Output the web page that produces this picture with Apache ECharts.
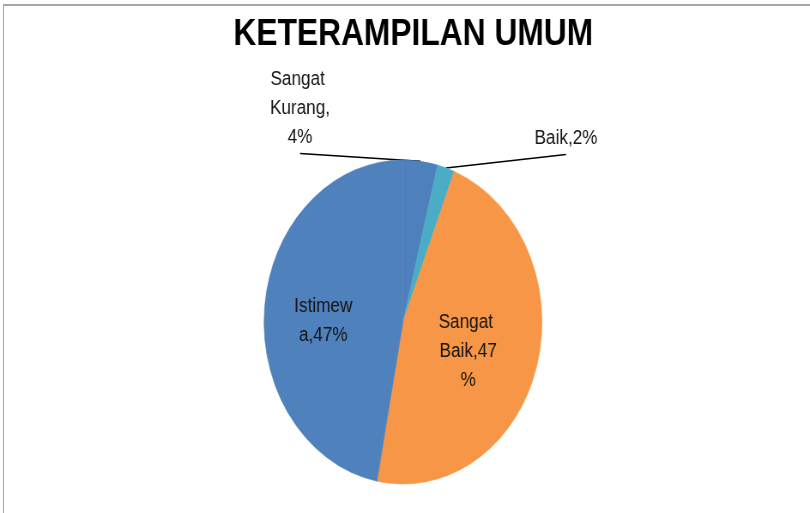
<!DOCTYPE html>
<html><head><meta charset="utf-8">
<script src="https://cdn.jsdelivr.net/npm/echarts/dist/echarts.min.js"></script>
<style>
html,body{margin:0;padding:0;background:#fff;overflow:hidden;width:810px;height:513px}
#frame{position:absolute;left:3px;top:4px;width:830px;height:530px;border-top:2px solid #a6a6a6;border-left:1px solid #a6a6a6;}
#chart{position:absolute;left:0;top:0;width:944px;height:513px;transform:scaleX(0.858);transform-origin:0 0;}
</style></head><body>
<div id="frame"></div><div id="chart"></div>
<script>
// Data
const titleText = 'KETERAMPILAN UMUM';
const categories = ['Sangat Kurang', 'Baik', 'Sangat Baik', 'Istimewa'];
const values = [4, 2, 47, 47];

// Styling / layout (not data)
const S = 0.858; // horizontal squash of the whole drawing (elliptical pie)
const colors = ['#4E80BD', '#4BACC6', '#F79646', '#4F81BD'];
const labelInside = [false, false, true, true];
const outerLabelCenter = { 0: [300, 108], 1: [566, 138] }; // screen px
const insideLabelShift = { 2: [-4, 6], 3: [-8, 7] };         // screen px

const chart = echarts.init(document.getElementById('chart'), null, { renderer: 'canvas' });
const data = categories.map((name, i) => ({
  name: name,
  value: values[i],
  itemStyle: { color: colors[i], borderColor: colors[i], borderWidth: 0.6 },
  label: labelInside[i] ? { position: 'inside' } : { position: 'outside' },
  labelLine: { show: !labelInside[i] }
}));

chart.setOption({
  animation: false,
  backgroundColor: 'transparent',
  title: {
    text: titleText,
    left: 267,
    top: 11,
    textStyle: { fontFamily: 'Liberation Sans', fontWeight: 'bold', fontSize: 37, color: '#000' }
  },
  series: [{
    type: 'pie',
    center: [403 / S, 322],
    radius: 162,
    startAngle: 90,
    clockwise: true,
    avoidLabelOverlap: false,
    emphasis: { disabled: true },
    label: {
      formatter: '{b},{d}%',
      fontFamily: 'Liberation Sans',
      fontSize: 20,
      lineHeight: 29,
      color: '#141414',
      width: 76,
      overflow: 'breakAll',
      align: 'center'
    },
    labelLine: { show: true, length: 20, length2: 20, lineStyle: { color: '#000', width: 1.6 } },
    labelLayout: function (p) {
      const sh = insideLabelShift[p.dataIndex];
      if (sh) return { dx: sh[0] / S, dy: sh[1] };
      const t = outerLabelCenter[p.dataIndex];
      if (!t) return {};
      const x = t[0] / S, y = t[1];
      const h = p.labelRect.height;
      const res = { x: x, y: y, align: 'center', verticalAlign: 'middle' };
      if (p.labelLinePoints) {
        const start = p.labelLinePoints[0];
        const end = [x, y + h / 2 + 2];
        res.labelLinePoints = [start, end, end];
      }
      return res;
    },
    data: data
  }]
});
</script>
</body></html>
